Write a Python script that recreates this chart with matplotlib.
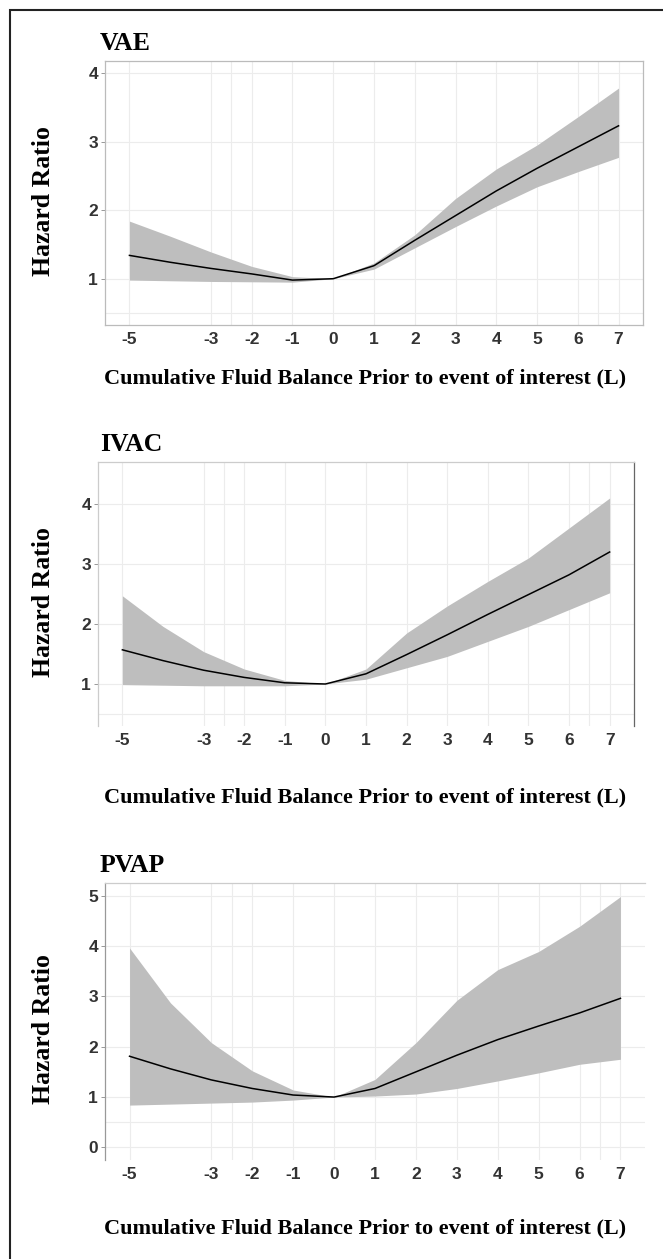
import numpy as np
import matplotlib.pyplot as plt
from matplotlib.patches import Rectangle

plt.rcParams['axes.unicode_minus'] = False

# fluid balance (L)
x = [-5, -4, -3, -2, -1, 0, 1, 2, 3, 4, 5, 6, 7]

# VAE
vae_hr = [1.34, 1.24, 1.15, 1.07, 0.98, 1.0, 1.19, 1.56, 1.92, 2.28, 2.61, 2.92, 3.23]
vae_hi = [1.84, 1.62, 1.39, 1.18, 1.03, 1.0, 1.23, 1.64, 2.17, 2.6, 2.95, 3.36, 3.78]
vae_lo = [0.98, 0.97, 0.96, 0.955, 0.95, 1.0, 1.14, 1.45, 1.76, 2.06, 2.34, 2.56, 2.77]

# IVAC
ivac_hr = [1.57, 1.39, 1.23, 1.11, 1.02, 1.0, 1.17, 1.49, 1.82, 2.16, 2.49, 2.82, 3.2]
ivac_hi = [2.47, 1.96, 1.54, 1.25, 1.06, 1.0, 1.25, 1.85, 2.3, 2.71, 3.1, 3.6, 4.1]
ivac_lo = [0.99, 0.98, 0.97, 0.97, 0.97, 1.0, 1.08, 1.27, 1.46, 1.71, 1.96, 2.24, 2.52]

# PVAP
pvap_hr = [1.81, 1.56, 1.34, 1.17, 1.04, 1.0, 1.17, 1.5, 1.83, 2.14, 2.41, 2.67, 2.96]
pvap_hi = [3.96, 2.87, 2.08, 1.52, 1.14, 1.0, 1.35, 2.08, 2.92, 3.53, 3.89, 4.39, 4.98]
pvap_lo = [0.84, 0.86, 0.88, 0.9, 0.94, 1.0, 1.02, 1.06, 1.17, 1.32, 1.48, 1.65, 1.75]

xticks = [-5, -3, -2, -1, 0, 1, 2, 3, 4, 5, 6, 7]

W, H = 663, 1259
fig = plt.figure(figsize=(W / 100, H / 100), dpi=100)

serif = ['Liberation Serif', 'DejaVu Serif']
sans = ['Liberation Sans', 'DejaVu Sans']

panels = [
    # name, hr, hi, lo, (left, right, top, bottom px), ylim, yticks, y of x-label
    ("VAE", vae_hr, vae_hi, vae_lo, (105, 643, 61, 325), (0.325, 4.175), [1, 2, 3, 4], 378),
    ("IVAC", ivac_hr, ivac_hi, ivac_lo, (98, 634, 462, 726), (0.3, 4.7), [1, 2, 3, 4], 797),
    ("PVAP", pvap_hr, pvap_hi, pvap_lo, (105, 645, 883, 1160), (-0.25, 5.25), [0, 1, 2, 3, 4, 5], 1228),
]

for i, (name, hr, hi, lo, box, ylim, yt, xlab_y) in enumerate(panels):
    l, r, t, b = box
    ax = fig.add_axes([l / W, 1 - b / H, (r - l) / W, (b - t) / H])
    ax.fill_between(x, lo, hi, color='#bebebe', lw=0)
    ax.plot(x, hr, color='black', lw=1.1)
    ax.set_xlim(-5.6, 7.6)
    ax.set_ylim(*ylim)
    ax.set_xticks(xticks)
    ax.set_yticks(yt)
    ax.set_xticks([-2.5, 6.5], minor=True)
    ax.set_yticks([0.5], minor=True)
    ax.grid(True, which='both', color='#ececec', lw=0.8)
    ax.set_axisbelow(True)
    ax.tick_params(axis='both', which='major', labelsize=12.5, labelcolor='#333333',
                   color='#888888', length=3, width=0.6, pad=2)
    ax.tick_params(axis='x', length=0, pad=5)
    ax.tick_params(which='minor', length=0)
    for lab in ax.get_xticklabels() + ax.get_yticklabels():
        lab.set_family(sans)
        lab.set_fontweight('bold')
    for s in ax.spines.values():
        s.set_color('#bbbbbb')
        s.set_linewidth(0.9)
    if i == 1:
        ax.spines['bottom'].set_visible(False)
        ax.spines['right'].set_color('#666666')
        ax.spines['top'].set_color('#cccccc')
        ax.spines['left'].set_color('#cccccc')
    if i == 2:
        ax.spines['bottom'].set_visible(False)
        ax.spines['right'].set_visible(False)
        ax.spines['top'].set_color('#cccccc')
        ax.spines['left'].set_color('#999999')

    fig.text(100 / W, 1 - (t - 11) / H, name, family=serif, fontweight='bold',
             fontsize=18.5, ha='left', va='baseline')
    fig.text(43 / W, 1 - ((t + b) / 2 + 8) / H, "Hazard Ratio", family=serif,
             fontweight='bold', fontsize=18.5, rotation=90, ha='center', va='center')
    fig.text(365 / W, 1 - xlab_y / H, "Cumulative Fluid Balance Prior to event of interest (L)",
             family=serif, fontweight='bold', fontsize=16, ha='center', va='center')

# outer frame
fig.patches.append(Rectangle((10 / W, -0.01), 1.0, 1 - 10 / H + 0.01, transform=fig.transFigure,
                             fill=False, edgecolor='#222222', lw=1.5))

fig.savefig('out.png', dpi=100)
